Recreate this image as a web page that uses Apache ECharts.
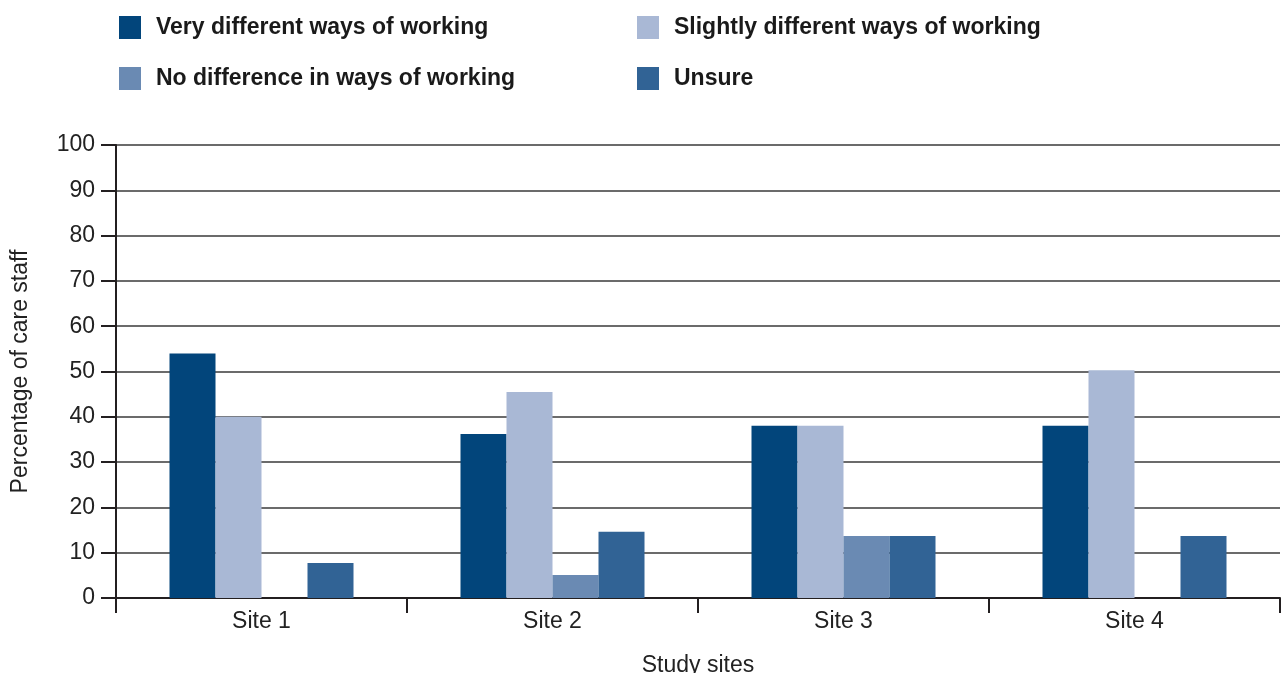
<!DOCTYPE html>
<html>
<head>
<meta charset="utf-8">
<script src="https://cdn.jsdelivr.net/npm/echarts@6/dist/echarts.min.js"></script>
<style>
  html, body { margin: 0; padding: 0; background: #fff; }
  #myChart { width: 1283px; height: 673px; }
</style>
</head>
<body>
<div id="myChart"></div>
<script>
// chart data
var sites = ['Site 1', 'Site 2', 'Site 3', 'Site 4']
var veryDifferent = [54, 36.2, 38, 38]
var slightlyDifferent = [40, 45.5, 38, 50.3]
var noDifference = [0, 5.1, 13.7, 0]
var unsure = [7.7, 14.6, 13.7, 13.7]
var yTicks = [0, 10, 20, 30, 40, 50, 60, 70, 80, 90, 100]

var seriesNames = [
  'Very different ways of working',
  'Slightly different ways of working',
  'No difference in ways of working',
  'Unsure'
]
var colors = ['#02457b', '#a9b8d5', '#6a8ab3', '#316395']
var font = 'Liberation Sans, Arial, sans-serif'

var chart = echarts.init(document.getElementById('myChart'))

function legendItem(name, left, top) {
  return {
    data: [name],
    left: left,
    top: top,
    itemWidth: 22,
    itemHeight: 23,
    itemGap: 16,
    icon: 'rect',
    selectedMode: false,
    textStyle: { fontFamily: font, fontSize: 23, fontWeight: 'bold', color: '#1a1a1a', padding: [0, 0, 0, 10] }
  }
}

var barData = [veryDifferent, slightlyDifferent, noDifference, unsure]

chart.setOption({
  animation: false,
  color: colors,
  legend: [
    legendItem(seriesNames[0], 114, 11),
    legendItem(seriesNames[1], 632, 11),
    legendItem(seriesNames[2], 114, 62),
    legendItem(seriesNames[3], 632, 62)
  ],
  grid: {
    left: 116,
    right: 3,
    top: 145,
    bottom: 75,
    outerBoundsMode: 'none'
  },
  xAxis: {
    type: 'category',
    data: sites,
    name: 'Study sites',
    nameLocation: 'middle',
    nameGap: 56,
    nameTextStyle: { fontFamily: font, fontSize: 23, color: '#222' },
    axisLine: { lineStyle: { color: '#231f20', width: 2 } },
    axisTick: { show: true, length: 15, lineStyle: { color: '#231f20', width: 2 } },
    axisLabel: { fontFamily: font, fontSize: 23, color: '#222', margin: 12 }
  },
  yAxis: {
    type: 'value',
    min: yTicks[0],
    max: yTicks[yTicks.length - 1],
    interval: 10,
    name: 'Percentage of care staff',
    nameLocation: 'middle',
    nameGap: 84,
    nameTextStyle: { fontFamily: font, fontSize: 23, color: '#222' },
    axisLine: { show: true, lineStyle: { color: '#231f20', width: 2 } },
    axisTick: { show: true, length: 15, lineStyle: { color: '#231f20', width: 2 } },
    axisLabel: { fontFamily: font, fontSize: 23, color: '#222', margin: 21 },
    splitLine: { lineStyle: { color: '#3a3a3a', width: 1.5 } }
  },
  series: seriesNames.map(function (name, i) {
    return {
      name: name,
      type: 'bar',
      data: barData[i],
      barWidth: 46,
      barGap: '0%',
      itemStyle: { color: colors[i] }
    }
  })
})
</script>
</body>
</html>
